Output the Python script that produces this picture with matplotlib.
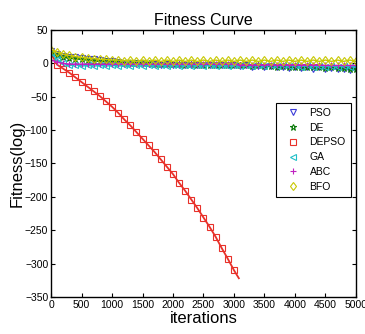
import matplotlib
matplotlib.use("Agg")
import matplotlib.pyplot as plt
import numpy as np

plt.rcParams['font.family'] = ['Liberation Sans', 'DejaVu Sans']

iters = list(range(0, 5001, 100))

pso = [18, 14, 11, 10, 9, 8, 7, 6, 5, 4, 3, 2, 1, 1, 0, 0, -1, -1, -2, -1, -2,
       -2, -3, -2, -3, -2, -3, -3, -2, -3, -3, -4, -3, -5, -4, -6, -4, -6, -5, -7,
       -5, -7, -6, -8, -6, -9, -7, -9, -8, -10, -9]
de = [16, 12, 9, 8, 7, 6, 5, 4, 3, 3, 2, 2, 1, 1, 0, 0, 0, -1, -1, -1, -1,
      -1, -2, -1, -2, -2, -2, -2, -2, -3, -2, -3, -3, -4, -3, -4, -4, -5, -4, -5,
      -5, -6, -5, -6, -6, -7, -6, -7, -7, -8, -8]
depso = [15, -2, -8, -14, -21, -28, -35, -42, -49, -57, -65, -74, -84, -93, -103,
         -113, -123, -133, -144, -155, -166, -179, -191, -204, -217, -231, -245,
         -260, -277, -293, -310]
depso_end_iter = 3080
depso_end_val = -322
ga = [15, 6, 0, -3, -2, -4, -3, -4, -3, -4, -3, -4, -3, -4, -3, -4, -3, -4, -3, -4,
      -3, -4, -3, -4, -3, -4, -3, -4, -3, -4, -3, -4, -3, -4, -3, -4, -3, -4, -3,
      -4, -3, -5, -3, -5, -4, -5, -4, -5, -4, -5, -4]
abc = [5, 2, 0, -1, -1, -1, -1, -1, -1, -1, -1, -1, -1, -1, -1, -1, -1, -1, -1, -1,
       -1, -1, -1, -1, -1, -1, -1, -1, -1, -1, -1, -2, -2, -2, -2, -2, -2, -2, -2,
       -2, -2, -2, -2, -2, -2, -3, -3, -3, -3, -3, -3]
bfo = [20, 17, 14, 12, 10, 9, 8, 7, 6, 6, 5, 5, 4, 5, 3, 5, 3, 5, 3, 5,
       3, 5, 3, 5, 3, 5, 3, 5, 3, 5, 3, 5, 3, 5, 3, 5, 3, 5, 3, 5,
       3, 5, 3, 5, 3, 5, 3, 5, 3, 5, 3]

fig = plt.figure(figsize=(3.65, 3.34), dpi=100)
ax = fig.add_axes([0.140, 0.111, 0.835, 0.799])

ms = 4.5
kw = dict(markersize=ms, markerfacecolor='none', markeredgewidth=0.8, linewidth=1.0)
ax.plot(iters, pso, color='#3a3ad8', marker='v', label='PSO', **kw)
ax.plot(iters, de, color='#0a7a0a', marker='*', label='DE', **kw)
ax.plot(iters[:len(depso)] + [depso_end_iter], depso + [depso_end_val],
        color='#e8312a', marker='s', markevery=list(range(len(depso))),
        label='DEPSO', markersize=5, markerfacecolor='none', markeredgewidth=0.8,
        linewidth=1.3)
ax.plot(iters, ga, color='#20c0c8', marker='<', label='GA', **kw)
ax.plot(iters, abc, color='#c020c0', marker='+', label='ABC', **kw)
ax.plot(iters, bfo, color='#c8c800', marker='d', label='BFO', **kw)

ax.set_xlim(0, 5000)
ax.set_ylim(-350, 50)
ax.set_xticks(range(0, 5001, 500))
ax.set_yticks(range(-350, 51, 50))
ax.tick_params(direction='in', top=True, right=True, labelsize=7.5, length=3, pad=2)
for s in ax.spines.values():
    s.set_linewidth(1.0)

ax.set_title('Fitness Curve', fontsize=11.5, pad=4)
ax.set_xlabel('iterations', fontsize=12, labelpad=1)
ax.set_ylabel('Fitness(log)', fontsize=12, labelpad=0)

leg = ax.legend(loc='upper right', bbox_to_anchor=(0.984, 0.727), fontsize=7.5,
                frameon=True, fancybox=False, edgecolor='black', framealpha=1,
                handlelength=2.3, handletextpad=0.45, borderpad=0.5, labelspacing=0.45,
                borderaxespad=0)
leg.get_frame().set_linewidth(0.8)
for h in leg.get_lines():
    h.set_linestyle('none')

fig.savefig('out.png', dpi=100)
